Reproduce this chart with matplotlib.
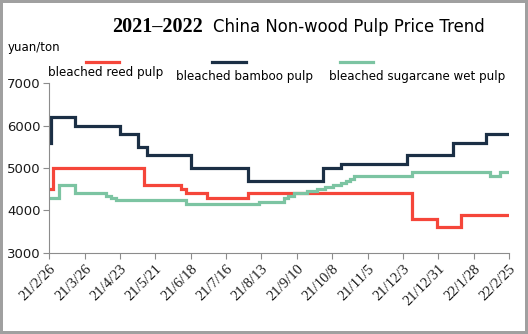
import matplotlib
matplotlib.use("Agg")
import matplotlib.pyplot as plt
from matplotlib.lines import Line2D
import pandas as pd

# price change points (yuan/ton), values hold until next change
reed_dates = ["2021-02-26", "2021-03-01", "2021-05-12", "2021-06-10", "2021-06-14",
              "2021-07-01", "2021-08-02", "2021-12-10", "2021-12-30", "2022-01-18",
              "2022-02-25"]
reed_vals = [4500, 5000, 4600, 4500, 4400, 4300, 4400, 3800, 3600, 3900, 3900]

bamboo_dates = ["2021-02-26", "2021-02-27", "2021-03-18", "2021-04-23", "2021-05-07",
                "2021-05-14", "2021-06-18", "2021-08-02", "2021-10-01", "2021-10-15",
                "2021-12-06", "2022-01-12", "2022-02-07", "2022-02-25"]
bamboo_vals = [5600, 6200, 6000, 5800, 5500, 5300, 5000, 4700, 5000, 5100,
               5300, 5600, 5800, 5800]

cane_dates = ["2021-02-26", "2021-03-06", "2021-03-18", "2021-04-12", "2021-04-16",
              "2021-04-20", "2021-06-14", "2021-08-11", "2021-08-31", "2021-09-03",
              "2021-09-08", "2021-09-18", "2021-09-26", "2021-10-02", "2021-10-09",
              "2021-10-15", "2021-10-19", "2021-10-22", "2021-10-25", "2021-12-10",
              "2022-02-10", "2022-02-18", "2022-02-25"]
cane_vals = [4300, 4600, 4400, 4350, 4300, 4250, 4150, 4200, 4300, 4350,
             4400, 4450, 4500, 4550, 4600, 4650, 4700, 4750, 4800, 4900,
             4800, 4900, 4900]

tick_dates = pd.date_range("2021-02-26", "2022-02-25", freq="28D")
tick_labels = [f"{d.year % 100}/{d.month}/{d.day}" for d in tick_dates]

names = ["bleached reed pulp", "bleached bamboo pulp", "bleached sugarcane wet pulp"]
colors = ["#f5463a", "#1b2f45", "#7cc4a2"]

fig = plt.figure(figsize=(5.28, 3.34), dpi=100, edgecolor="#a0a0a0", linewidth=3)
ax = fig.add_axes([0.0934, 0.2434, 0.8706, 0.5072])

series = [(reed_dates, reed_vals), (bamboo_dates, bamboo_vals), (cane_dates, cane_vals)]
for (d, v), c in zip(series, colors):
    ax.plot(pd.to_datetime(d), v, drawstyle="steps-post", color=c, lw=2.3,
            solid_joinstyle="miter")

ax.set_ylim(3000, 7000)
ax.set_yticks([3000, 4000, 5000, 6000, 7000])
ax.set_xlim(tick_dates[0], tick_dates[-1])
ax.set_xticks(tick_dates)
ax.set_xticklabels(tick_labels, rotation=45, ha="right", rotation_mode="anchor",
                   family="Liberation Serif", fontsize=10.5)
for s in ["top", "right"]:
    ax.spines[s].set_visible(False)
for s in ["left", "bottom"]:
    ax.spines[s].set_color("#8c8c8c")
ax.tick_params(axis="both", colors="#8c8c8c", length=4, labelcolor="#1a1a1a")
ax.tick_params(axis="y", labelsize=9.5, pad=2)
ax.tick_params(axis="x", pad=3)

fig.text(0.213, 0.918, "2021\u20132022", family="Liberation Serif", weight="bold",
         fontsize=14.5, va="center")
fig.text(0.403, 0.918, "China Non-wood Pulp Price Trend", family="DejaVu Sans",
         fontsize=11.9, va="center")
fig.text(0.015, 0.858, "yuan/ton", family="DejaVu Sans", fontsize=8.5, va="center")

# legend: short line above each label
leg = [(0.163, 0.225, 0.091, 0.782), (0.401, 0.466, 0.333, 0.770), (0.644, 0.707, 0.623, 0.770)]
for (x0, x1, tx, ty), c, n in zip(leg, colors, names):
    fig.add_artist(Line2D([x0, x1], [0.814, 0.814], color=c, lw=2.3, transform=fig.transFigure))
    fig.text(tx, ty, n, family="DejaVu Sans", fontsize=8.6, va="center")

fig.savefig("out.png", dpi=100, edgecolor=fig.get_edgecolor())
